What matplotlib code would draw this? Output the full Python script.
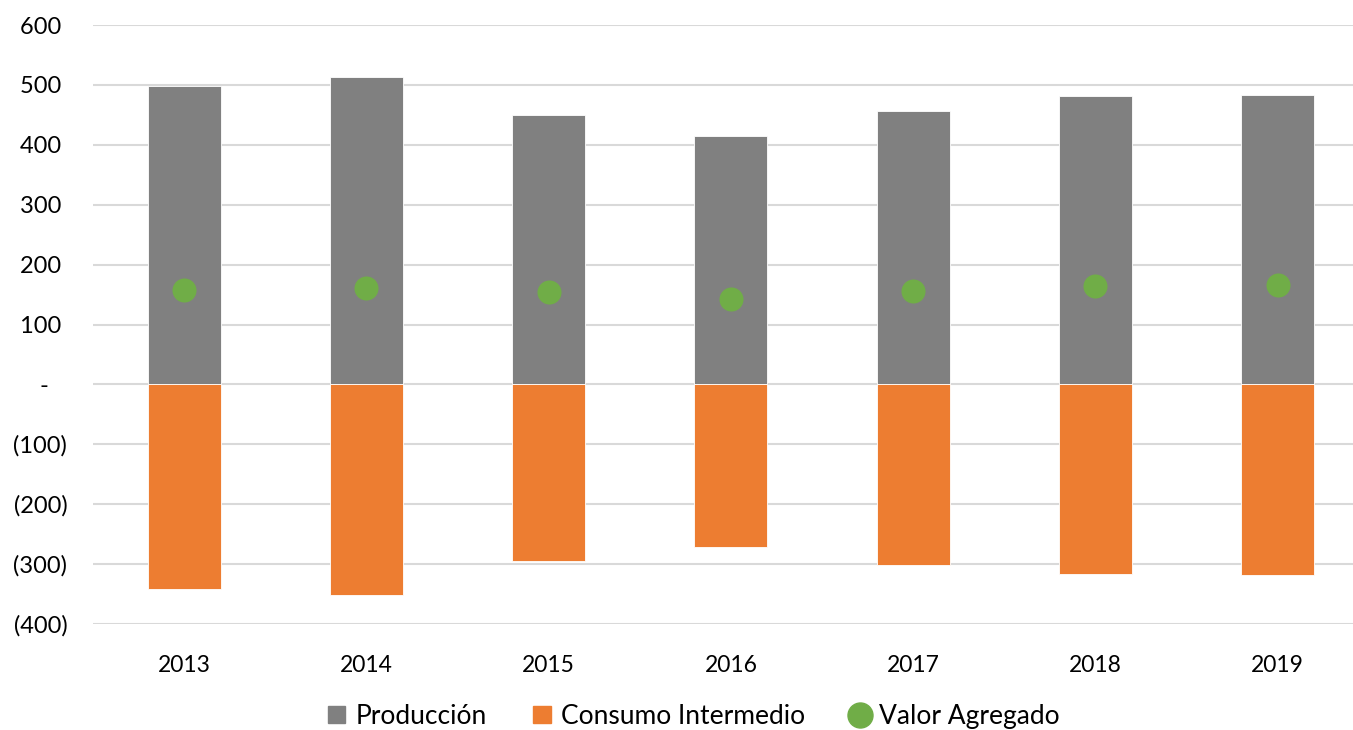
import matplotlib.pyplot as plt
from matplotlib.ticker import FuncFormatter
from matplotlib.lines import Line2D
from matplotlib.patches import Patch

plt.rcParams['font.family'] = ['Lato', 'DejaVu Sans']

years = ['2013', '2014', '2015', '2016', '2017', '2018', '2019']
produccion = [499, 513, 450, 415, 457, 481, 484]
consumo = [-342, -352, -295, -272, -301, -317, -318]
valor_agregado = [157, 161, 155, 143, 156, 164, 166]

grey = '#808080'
orange = '#ED7D31'
green = '#70AD47'

fig = plt.figure(figsize=(13.53, 7.3), dpi=100)
ax = fig.add_axes([0.0687, 0.1452, 0.943, 0.8205])

x = list(range(len(years)))
ax.bar(x, produccion, width=0.4, color=grey, edgecolor='white', linewidth=0.6, zorder=2)
ax.bar(x, consumo, width=0.4, color=orange, edgecolor='white', linewidth=0.6, zorder=2)
ax.scatter(x, valor_agregado, s=300, color=green, zorder=3, linewidths=0)

ax.set_xlim(-0.5, 6.5)
ax.set_ylim(-400, 600)
ax.set_yticks(range(-400, 601, 100))
ax.set_xticks(x)
ax.set_xticklabels(years)


# formato contable: negativos entre parentesis, cero como guion
def acct(v, pos):
    if v == 0:
        return '-   '
    if v < 0:
        return '({:,.0f})'.format(-v)
    return '{:,.0f} '.format(v)


ax.yaxis.set_major_formatter(FuncFormatter(acct))
ax.grid(axis='y', color='#D9D9D9', linewidth=1.5, zorder=0)
ax.set_axisbelow(True)
for s in ax.spines.values():
    s.set_visible(False)
ax.tick_params(axis='both', length=0, colors='black')
ax.tick_params(axis='y', pad=18.5, labelsize=17)
ax.tick_params(axis='x', pad=22, labelsize=16.5)

handles = [
    Patch(color=grey, label='Producción'),
    Patch(color=orange, label='Consumo Intermedio'),
    Line2D([], [], marker='o', linestyle='none', markersize=18, color=green, label='Valor Agregado'),
]
fig.legend(handles=handles, loc='center', bbox_to_anchor=(0.513, 0.019), ncol=3,
           frameon=False, fontsize=19, handlelength=0.65, handleheight=0.65,
           handletextpad=0.4, columnspacing=1.75)

fig.savefig('out.png', dpi=100)
